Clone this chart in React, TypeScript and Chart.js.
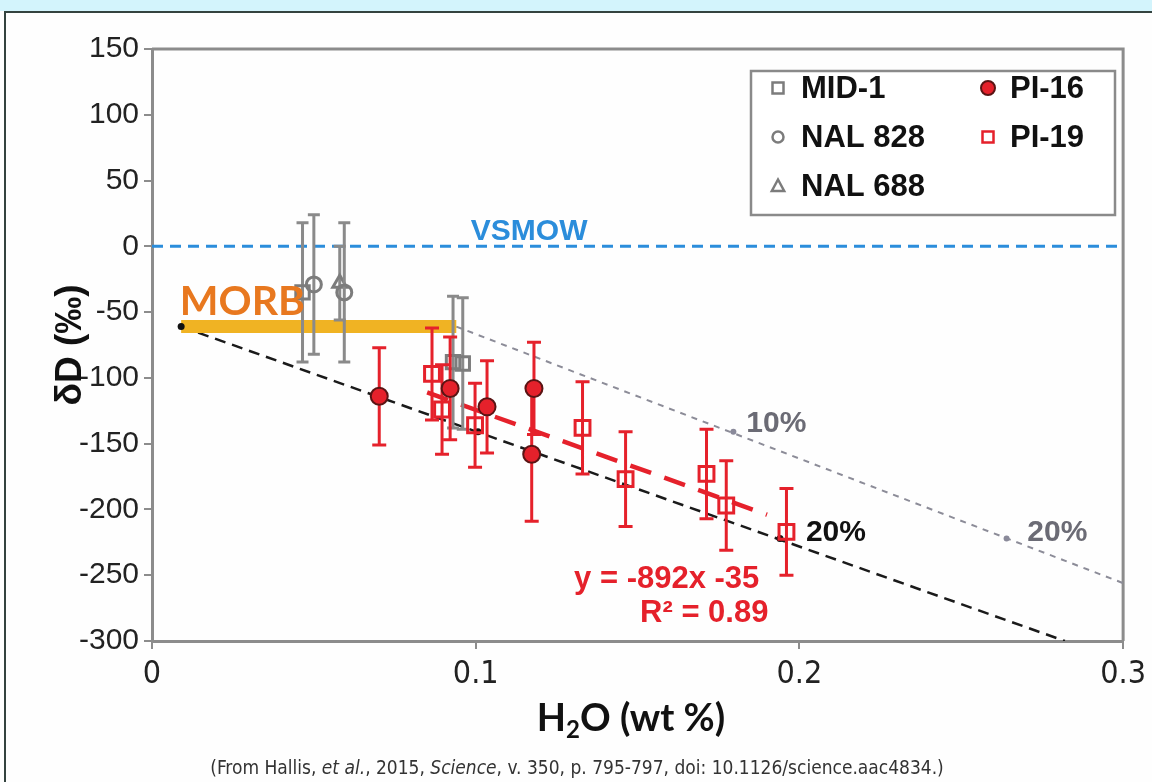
import React, { useEffect, useRef } from "react";
import { Chart, registerables } from "chart.js";

Chart.register(...registerables);

// ---------------- data ----------------
const xTickLabels = ["0", "0.1", "0.2", "0.3"];
const yTickValues = [150, 100, 50, 0, -50, -100, -150, -200, -250, -300];

const mid1X = [0.0465, 0.093, 0.096];
const mid1Y = [-35, -88, -89];
const mid1Err = [53, 50, 50];

const nal828X = [0.05, 0.0594];
const nal828Y = [-29, -35];
const nal828Err = [53, 53];

const nal688X = [0.058];
const nal688Y = [-28];
const nal688Err = [28];

const pi16X = [0.0702, 0.0921, 0.1035, 0.1173, 0.118];
const pi16Y = [-114, -108, -122, -158, -108];
const pi16Err = [37, 39, 35, 51, 35];

const pi19X = [0.0865, 0.0896, 0.0998, 0.133, 0.1463, 0.1713, 0.1774, 0.196];
const pi19Y = [-97, -124, -136, -138, -177, -173, -197, -217];
const pi19Err = [35, 34, 32, 35, 36, 34, 34, 33];

const vsmowX = [0, 0.3];
const vsmowY = [0, 0];
const morbX = [0.009, 0.094];
const morbY = [-61, -61];
const mixBlackX = [0.009, 0.282];
const mixBlackY = [-61, -300];
const mixGrayX = [0.094, 0.3];
const mixGrayY = [-61, -256];
const fitX = [0.085, 0.19];
const fitY = [-111, -204];
const blackMarkX = [0.009, 0.1007, 0.194];
const blackMarkY = [-61, -141, -222];
const grayMarkX = [0.1796, 0.264];
const grayMarkY = [-141, -222];

const labelTexts = ["VSMOW", "MORB", "10%", "20%", "20%", "y = -892x -35", "R² = 0.89"];
const labelX = [0.0985, 0.0086, 0.1836, 0.2704, 0.202, 0.159, 0.1706];
const labelY = [11, -42, -135, -218, -218, -253.5, -279];

const legendLabels = ["MID-1", "NAL 828", "NAL 688", "PI-16", "PI-19"];

const captionParts = [
  "(From Hallis, ",
  "et al.",
  ", 2015, ",
  "Science",
  ", v. 350, p. 795-797, doi: 10.1126/science.aac4834.)",
];

// ---------------- styles ----------------
const RED = "#e5212b";
const GRAY = "#7c7c7c";
const AXIS = "#8c8c8c";
const ARIAL = "'Liberation Sans', Arial, sans-serif";
const NARROW = "'Liberation Sans Narrow', 'DejaVu Sans Condensed', 'Liberation Sans', sans-serif";
const LATO = "Lato, 'Open Sans', sans-serif";

const labelStyles = [
  { color: "#2b8ddb", font: `bold 30px ${ARIAL}`, align: "left" },
  { color: "#e8781f", font: `bold 41px ${LATO}`, align: "left" },
  { color: "#6b6b75", font: `bold 30px ${ARIAL}`, align: "left" },
  { color: "#6b6b75", font: `bold 30px ${ARIAL}`, align: "left" },
  { color: "#111111", font: `bold 30px ${ARIAL}`, align: "left" },
  { color: RED, font: `bold 31px ${ARIAL}`, align: "center" },
  { color: RED, font: `bold 31px ${ARIAL}`, align: "center" },
];

const legendStyles = [
  { shape: "rect", stroke: GRAY, fill: "rgba(255,255,255,1)", r: 5.5, lw: 2.5, mx: 778, tx: 801, y: 88 },
  { shape: "circle", stroke: GRAY, fill: "rgba(255,255,255,1)", r: 5.5, lw: 2.5, mx: 778, tx: 801, y: 137 },
  { shape: "triangle", stroke: GRAY, fill: "rgba(255,255,255,1)", r: 6.5, lw: 2.5, mx: 778, tx: 801, y: 186 },
  { shape: "circle", stroke: "#5a1414", fill: RED, r: 7, lw: 2, mx: 988, tx: 1010, y: 88 },
  { shape: "rect", stroke: RED, fill: "rgba(255,255,255,1)", r: 5.5, lw: 2.5, mx: 988, tx: 1010, y: 137 },
];

const toPts = (xs: number[], ys: number[]) => xs.map((x, i) => ({ x, y: ys[i] }));

function drawMarker(
  ctx: CanvasRenderingContext2D,
  shape: string,
  x: number,
  y: number,
  r: number,
  stroke: string,
  fill: string,
  lw: number
) {
  ctx.save();
  ctx.lineWidth = lw;
  ctx.strokeStyle = stroke;
  ctx.fillStyle = fill;
  ctx.beginPath();
  if (shape === "rect") ctx.rect(x - r, y - r, 2 * r, 2 * r);
  else if (shape === "circle") ctx.arc(x, y, r, 0, Math.PI * 2);
  else {
    ctx.moveTo(x, y - r);
    ctx.lineTo(x + r * 0.95, y + r * 0.75);
    ctx.lineTo(x - r * 0.95, y + r * 0.75);
    ctx.closePath();
  }
  ctx.fill();
  ctx.stroke();
  ctx.restore();
}

const framePlugin = {
  id: "frame",
  beforeDraw(chart: any) {
    const { ctx, width, height } = chart;
    ctx.save();
    ctx.fillStyle = "#fefefe";
    ctx.fillRect(0, 0, width, height);
    ctx.fillStyle = "#d3f4fc";
    ctx.fillRect(0, 0, width, 11);
    ctx.strokeStyle = "#34433f";
    ctx.lineWidth = 2;
    ctx.beginPath();
    ctx.moveTo(4, 12);
    ctx.lineTo(width, 12);
    ctx.moveTo(5, 12);
    ctx.lineTo(5, height);
    ctx.stroke();
    ctx.restore();
  },
  beforeDatasetsDraw(chart: any) {
    const { ctx, chartArea } = chart;
    ctx.save();
    ctx.strokeStyle = AXIS;
    ctx.lineWidth = 3;
    ctx.beginPath();
    ctx.moveTo(chartArea.left, chartArea.top);
    ctx.lineTo(chartArea.right, chartArea.top);
    ctx.lineTo(chartArea.right, chartArea.bottom);
    ctx.stroke();
    ctx.restore();
  },
};

const errorBarPlugin = {
  id: "errorBars",
  beforeDatasetDraw(chart: any, args: any) {
    const ds = chart.data.datasets[args.index] as any;
    if (!ds.errs) return;
    const { ctx } = chart;
    const xs = chart.scales.x;
    const ys = chart.scales.y;
    ctx.save();
    ctx.strokeStyle = ds.errColor;
    ctx.lineWidth = ds.errWidth;
    ctx.beginPath();
    ds.data.forEach((p: any, i: number) => {
      const e = ds.errs[i];
      const px = xs.getPixelForValue(p.x);
      const top = ys.getPixelForValue(p.y + e);
      const bot = ys.getPixelForValue(p.y - e);
      ctx.moveTo(px, top);
      ctx.lineTo(px, bot);
      ctx.moveTo(px - ds.capW, top);
      ctx.lineTo(px + ds.capW, top);
      ctx.moveTo(px - ds.capW, bot);
      ctx.lineTo(px + ds.capW, bot);
    });
    ctx.stroke();
    ctx.restore();
  },
};

const textPlugin = {
  id: "texts",
  afterDraw(chart: any) {
    const { ctx } = chart;
    const xs = chart.scales.x;
    const ys = chart.scales.y;
    ctx.save();
    // annotations
    labelTexts.forEach((t, i) => {
      const st = labelStyles[i];
      ctx.font = st.font;
      ctx.fillStyle = st.color;
      ctx.textAlign = st.align as CanvasTextAlign;
      ctx.textBaseline = "middle";
      ctx.fillText(t, xs.getPixelForValue(labelX[i]), ys.getPixelForValue(labelY[i]));
    });

    // legend
    ctx.strokeStyle = "#8a8a8a";
    ctx.lineWidth = 2.5;
    ctx.fillStyle = "#ffffff";
    ctx.fillRect(751, 71, 364, 144);
    ctx.strokeRect(751, 71, 364, 144);
    legendLabels.forEach((t, i) => {
      const st = legendStyles[i];
      drawMarker(ctx, st.shape, st.mx, st.y, st.r, st.stroke, st.fill, st.lw);
      ctx.font = `bold 31px ${ARIAL}`;
      ctx.fillStyle = "#111111";
      ctx.textAlign = "left";
      ctx.textBaseline = "middle";
      ctx.fillText(t, st.tx, st.y + 1);
    });

    // y title
    ctx.save();
    ctx.translate(71, 345);
    ctx.rotate(-Math.PI / 2);
    ctx.font = `bold 37px ${ARIAL}`;
    ctx.fillStyle = "#111111";
    ctx.textAlign = "center";
    ctx.textBaseline = "middle";
    ctx.fillText("δD (‰)", 0, 0);
    ctx.restore();

    // x title H2O (wt %)
    ctx.textAlign = "left";
    ctx.textBaseline = "alphabetic";
    ctx.fillStyle = "#111111";
    const big = `bold 38px ${LATO}`;
    const small = `bold 24px ${LATO}`;
    ctx.font = big;
    const w1 = ctx.measureText("H").width;
    const w3 = ctx.measureText("O (wt %)").width;
    ctx.font = small;
    const w2 = ctx.measureText("2").width;
    const x0 = 631 - (w1 + w2 + w3) / 2;
    const base = 731;
    ctx.font = big;
    ctx.fillText("H", x0, base);
    ctx.font = small;
    ctx.fillText("2", x0 + w1, base + 7);
    ctx.font = big;
    ctx.fillText("O (wt %)", x0 + w1 + w2, base);

    // caption
    const fonts = [
      `19px ${NARROW}`,
      `italic 19px ${NARROW}`,
      `19px ${NARROW}`,
      `italic 19px ${NARROW}`,
      `19px ${NARROW}`,
    ];
    let total = 0;
    const widths = captionParts.map((p, i) => {
      ctx.font = fonts[i];
      const w = ctx.measureText(p).width;
      total += w;
      return w;
    });
    let cx = 577 - total / 2;
    ctx.fillStyle = "#333333";
    captionParts.forEach((p, i) => {
      ctx.font = fonts[i];
      ctx.fillText(p, cx, 774);
      cx += widths[i];
    });
    ctx.restore();
  },
};

export default function App() {
  const ref = useRef<HTMLCanvasElement | null>(null);

  useEffect(() => {
    if (!ref.current) return;
    const lineDs = (
      label: string,
      xs: number[],
      ys: number[],
      color: string,
      width: number,
      dash: number[],
      order: number
    ) => ({
      label,
      data: toPts(xs, ys),
      showLine: true,
      borderColor: color,
      borderWidth: width,
      borderDash: dash,
      borderCapStyle: "butt",
      pointRadius: 0,
      fill: false,
      order,
    });

    const chart = new Chart(ref.current, {
      type: "scatter",
      data: {
        datasets: [
          {
            label: "PI-16",
            data: toPts(pi16X, pi16Y),
            pointStyle: "circle",
            pointRadius: 8.5,
            backgroundColor: RED,
            borderColor: "#5a1414",
            borderWidth: 2,
            errs: pi16Err,
            errColor: RED,
            errWidth: 3,
            capW: 7,
            order: 1,
          },
          {
            label: "PI-19",
            data: toPts(pi19X, pi19Y),
            pointStyle: "rect",
            pointRadius: 10.5,
            backgroundColor: "rgba(0,0,0,0)",
            borderColor: RED,
            borderWidth: 3,
            errs: pi19Err,
            errColor: RED,
            errWidth: 3,
            capW: 7,
            order: 2,
          },
          {
            label: "MID-1",
            data: toPts(mid1X, mid1Y),
            pointStyle: "rect",
            pointRadius: 9.5,
            backgroundColor: "rgba(0,0,0,0)",
            borderColor: GRAY,
            borderWidth: 3,
            errs: mid1Err,
            errColor: "#8a8a8a",
            errWidth: 3,
            capW: 6,
            order: 3,
          },
          {
            label: "NAL 828",
            data: toPts(nal828X, nal828Y),
            pointStyle: "circle",
            pointRadius: 7.5,
            backgroundColor: "rgba(0,0,0,0)",
            borderColor: GRAY,
            borderWidth: 3,
            errs: nal828Err,
            errColor: "#8a8a8a",
            errWidth: 3,
            capW: 6,
            order: 4,
          },
          {
            label: "NAL 688",
            data: toPts(nal688X, nal688Y),
            pointStyle: "triangle",
            pointRadius: 8,
            backgroundColor: "rgba(0,0,0,0)",
            borderColor: GRAY,
            borderWidth: 3,
            errs: nal688Err,
            errColor: "#8a8a8a",
            errWidth: 3,
            capW: 6,
            order: 5,
          },
          {
            label: "black marks",
            data: toPts(blackMarkX, blackMarkY),
            pointStyle: "circle",
            pointRadius: 3.5,
            backgroundColor: "#111111",
            borderWidth: 0,
            order: 6,
          },
          {
            label: "gray marks",
            data: toPts(grayMarkX, grayMarkY),
            pointStyle: "circle",
            pointRadius: 3,
            backgroundColor: "#8a8a9a",
            borderWidth: 0,
            order: 7,
          },
          lineDs("fit", fitX, fitY, RED, 4.5, [22, 14], 8),
          lineDs("MORB", morbX, morbY, "#f0b323", 13, [], 9),
          lineDs("mix 1", mixBlackX, mixBlackY, "#1a1a1a", 2.5, [11, 7], 10),
          lineDs("mix 2", mixGrayX, mixGrayY, "#8c8c98", 2, [6, 6], 11),
          lineDs("VSMOW", vsmowX, vsmowY, "#2b8ddb", 3, [11, 7], 12),
        ] as any,
      },
      options: {
        animation: false,
        responsive: false,
        devicePixelRatio: 1,
        layout: { padding: { top: 49, right: 26, left: 0, bottom: 0 } },
        plugins: { legend: { display: false }, tooltip: { enabled: false } },
        scales: {
          x: {
            type: "linear",
            min: 0,
            max: 0.3,
            afterFit: (s: any) => {
              s.height = 141;
            },
            ticks: {
              stepSize: 0.1,
              padding: 6,
              color: "#222222",
              font: { family: NARROW, size: 32 },
              callback: (_v: any, i: number) => xTickLabels[i],
            },
            grid: {
              display: true,
              drawOnChartArea: false,
              drawTicks: true,
              tickLength: 8,
              color: AXIS,
              lineWidth: 2,
            },
            border: { display: true, color: AXIS, width: 3 },
          },
          y: {
            type: "linear",
            min: -300,
            max: 150,
            afterFit: (s: any) => {
              s.width = 152;
            },
            ticks: {
              stepSize: 50,
              padding: 5,
              color: "#222222",
              font: { family: ARIAL, size: 30 },
              callback: (v: any) => (yTickValues.includes(v) ? String(v) : ""),
            },
            grid: {
              display: true,
              drawOnChartArea: false,
              drawTicks: true,
              tickLength: 8,
              color: AXIS,
              lineWidth: 2,
            },
            border: { display: true, color: AXIS, width: 3 },
          },
        },
      } as any,
      plugins: [framePlugin, errorBarPlugin, textPlugin] as any,
    });
    return () => chart.destroy();
  }, []);

  return (
    <div style={{ position: "fixed", left: 0, top: 0, width: 1152, height: 782 }}>
      <canvas ref={ref} width={1152} height={782} style={{ display: "block" }} />
    </div>
  );
}
